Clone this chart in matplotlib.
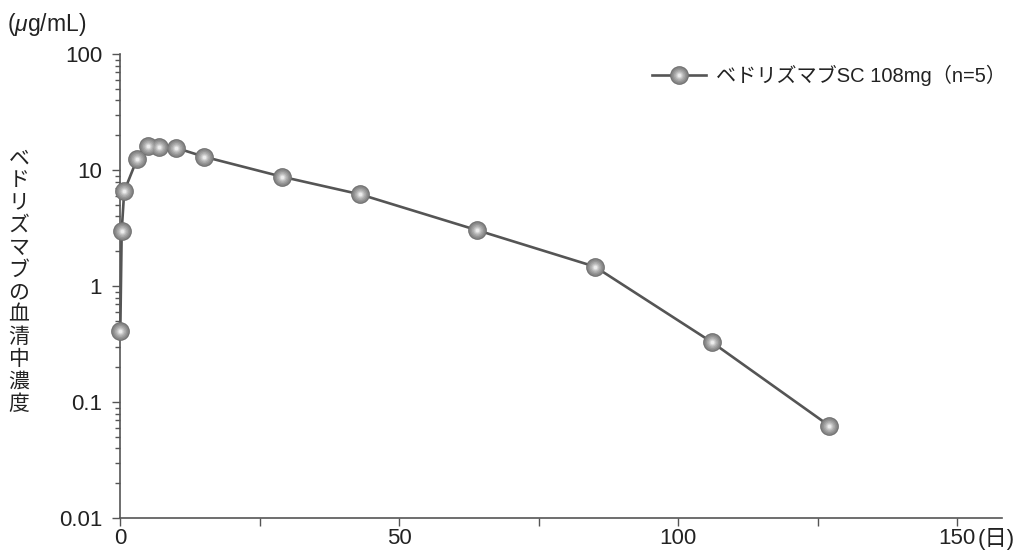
import matplotlib
matplotlib.use("Agg")
import matplotlib.pyplot as plt
from matplotlib.ticker import MultipleLocator, LogLocator, NullFormatter, FixedLocator
from matplotlib.legend_handler import HandlerTuple
from matplotlib.lines import Line2D

plt.rcParams['font.family'] = ['Liberation Sans', 'Noto Sans CJK JP', 'DejaVu Sans']
plt.rcParams['mathtext.fontset'] = 'custom'
plt.rcParams['mathtext.rm'] = 'Liberation Sans'
plt.rcParams['mathtext.it'] = 'Liberation Sans:italic'

# days after dosing / serum concentration (ug/mL)
days = [0, 0.25, 0.7, 3, 5, 7, 10, 15, 29, 43, 64, 85, 106, 127]
conc = [0.41, 3.0, 6.6, 12.5, 16.2, 16.0, 15.6, 13.1, 8.8, 6.2, 3.04, 1.48, 0.33, 0.063]
series_label = "ベドリズマブSC 108mg（n=5）"
ylabel = "ベドリズマブの血清中濃度"
xticks = [0, 50, 100, 150]
yticks = [0.01, 0.1, 1, 10, 100]
ytick_labels = ["0.01", "0.1", "1", "10", "100"]

W, H = 1028, 551
fig = plt.figure(figsize=(W / 100, H / 100), dpi=100, facecolor='white')
ax = fig.add_axes([120.3 / W, 1 - 518.3 / H, (1002 - 120.3) / W, (518.3 - 54.3) / H])

line_col = '#555555'
ax.plot(days, conc, color=line_col, lw=1.9, zorder=2, clip_on=False)

# fake shaded sphere markers: concentric layers, dark rim -> light centre
layers = [(13.5, '#707070'), (12.0, '#858585'), (10.0, '#969696'), (8.0, '#a8a8a8'),
          (6.0, '#bdbdbd'), (4.2, '#d4d4d4'), (2.6, '#ececec')]
handles = [Line2D([], [], color=line_col, lw=1.9)]
for k, (ms, c) in enumerate(layers):
    m, = ax.plot(days, conc, ls='none', marker='o', ms=ms, mfc=c, mec='none',
                 zorder=3 + k, clip_on=False)
    handles.append(m)

ax.set_yscale('log')
ax.set_ylim(0.01, 100)
ax.set_xlim(0, 158)

ax.xaxis.set_major_locator(FixedLocator(xticks))
ax.xaxis.set_minor_locator(MultipleLocator(25))
ax.yaxis.set_major_locator(FixedLocator(yticks))
ax.set_yticklabels(ytick_labels)
ax.yaxis.set_minor_locator(LogLocator(base=10, subs=range(2, 10)))
ax.yaxis.set_minor_formatter(NullFormatter())

for s in ['top', 'right']:
    ax.spines[s].set_visible(False)
for s in ['left', 'bottom']:
    ax.spines[s].set_color(line_col)
    ax.spines[s].set_linewidth(1.2)

ax.tick_params(axis='both', which='both', direction='out', color=line_col, width=1.0,
               labelsize=16, labelcolor='#222222')
ax.tick_params(axis='x', which='both', length=6, pad=1)
ax.tick_params(axis='y', which='major', length=6, pad=7)
ax.tick_params(axis='y', which='minor', length=3.5)

# unit next to the last x tick label
ax.annotate("(日)", xy=(150, 0), xycoords=ax.get_xaxis_transform(),
            xytext=(14.5, -7), textcoords='offset points', ha='left', va='top',
            fontsize=16, color='#222222')

fig.text(7 / W, 1 - 25 / H, r"($\mu$g/mL)", ha='left', va='center', fontsize=16.5, color='#222222')
fig.text(19 / W, 1 - 281 / H, "\n".join(ylabel), ha='center', va='center', fontsize=15,
         linespacing=1.02, color='#222222', family=['Noto Sans CJK JP', 'DejaVu Sans'])

ax.legend([tuple(handles)], [series_label], handler_map={tuple: HandlerTuple(ndivide=1, pad=0)},
          loc='center right', bbox_to_anchor=(1006 / W, 1 - 75 / H), bbox_transform=fig.transFigure,
          frameon=False, fontsize=14.5, handlelength=2.7, handletextpad=0.5,
          borderpad=0, borderaxespad=0, labelcolor='#222222')

fig.savefig('out.png', dpi=100, facecolor='white')
